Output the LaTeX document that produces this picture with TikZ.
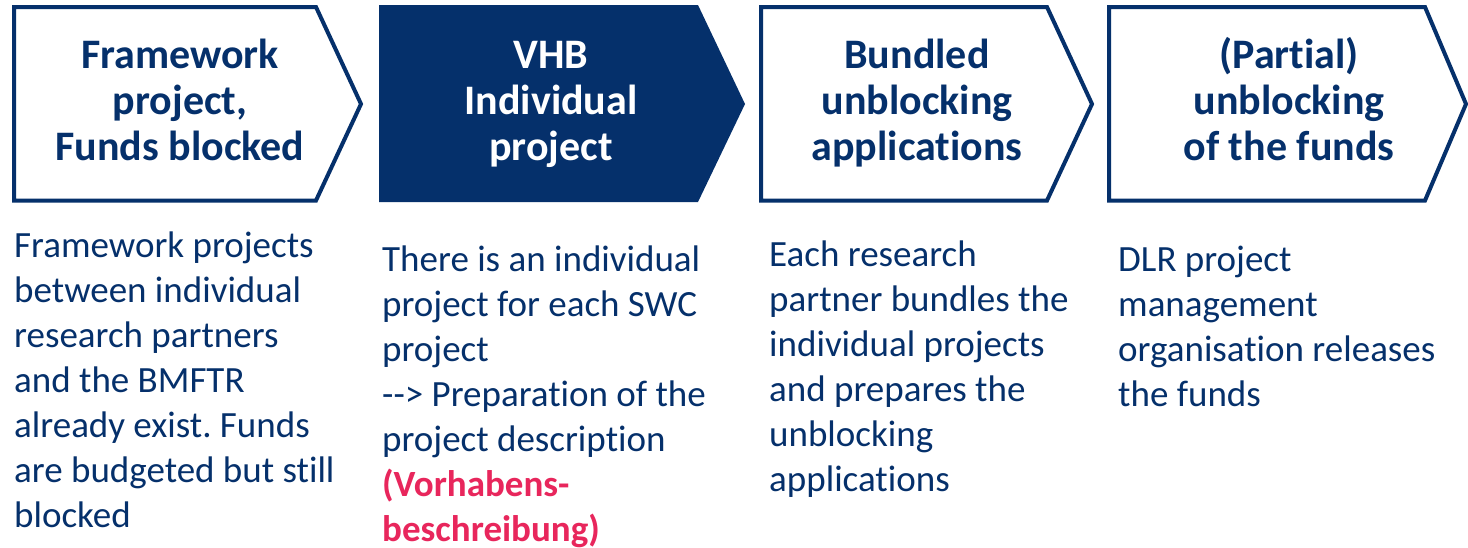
\documentclass[tikz,border=0pt]{standalone}
\usepackage{fontspec}
\setmainfont{Carlito}[Ligatures={NoCommon}]
\frenchspacing
\definecolor{navy}{RGB}{5,48,107}
\definecolor{accent}{RGB}{232,38,92}
\tikzset{
  chev/.style={draw=navy, line width=4pt, line join=miter, fill=white},
  chevfill/.style={fill=navy},
  title/.style={font=\bfseries\fontsize{42}{46}\selectfont, text=navy, align=center, inner sep=0pt, anchor=base},
  titlew/.style={title, text=white},
  body/.style={font=\fontsize{37}{45}\selectfont, text=navy, align=left, inner sep=0pt, anchor=base west}
}
\begin{document}
\begin{tikzpicture}[x=1pt,y=-1pt]
\useasboundingbox (0,0) rectangle (1468,547);
\fill[white] (0,0) rectangle (1468,547);
% chevrons
\path[chev] (14,7) -- (316,7) -- (361,104) -- (316,200.5) -- (14,200.5) -- cycle;
\path[chevfill] (379,5) -- (698,5) -- (745,104) -- (698,202) -- (379,202) -- cycle;
\path[chev] (761,7) -- (1047,7) -- (1092,104) -- (1047,200.5) -- (761,200.5) -- cycle;
\path[chev] (1109,7) -- (1425,7) -- (1466,104) -- (1425,200.5) -- (1109,200.5) -- cycle;
% titles (base anchor = last line's baseline)
\node[title] (t1) at (180,160) {Framework\\project,\\Funds blocked};
\node[titlew] (t2) at (551,160) {VHB\\Individual\\project};
\node[title] (t3) at (917,160) {Bundled\\unblocking\\applications};
\node[title] (t4) at (1289,160) {(Partial)\\unblocking\\of the funds};
% bodies
\node[body] (b1) at (14,527) {Framework projects\\between individual\\research partners\\and the BMFTR\\already exist. Funds\\are budgeted but still\\blocked};
\node[body] (b2) at (382,541) {There is an individual\\project for each SWC\\project\\-{}-> Preparation of the\\project description\\{\color{accent}\bfseries (Vorhabens-}\\{\color{accent}\bfseries beschreibung)}};
\node[body] (b3) at (769,491) {Each research\\partner bundles the\\individual projects\\and prepares the\\unblocking\\applications};
\node[body] (b4) at (1118,406) {DLR project\\management\\organisation releases\\the funds};
\end{tikzpicture}
\end{document}
